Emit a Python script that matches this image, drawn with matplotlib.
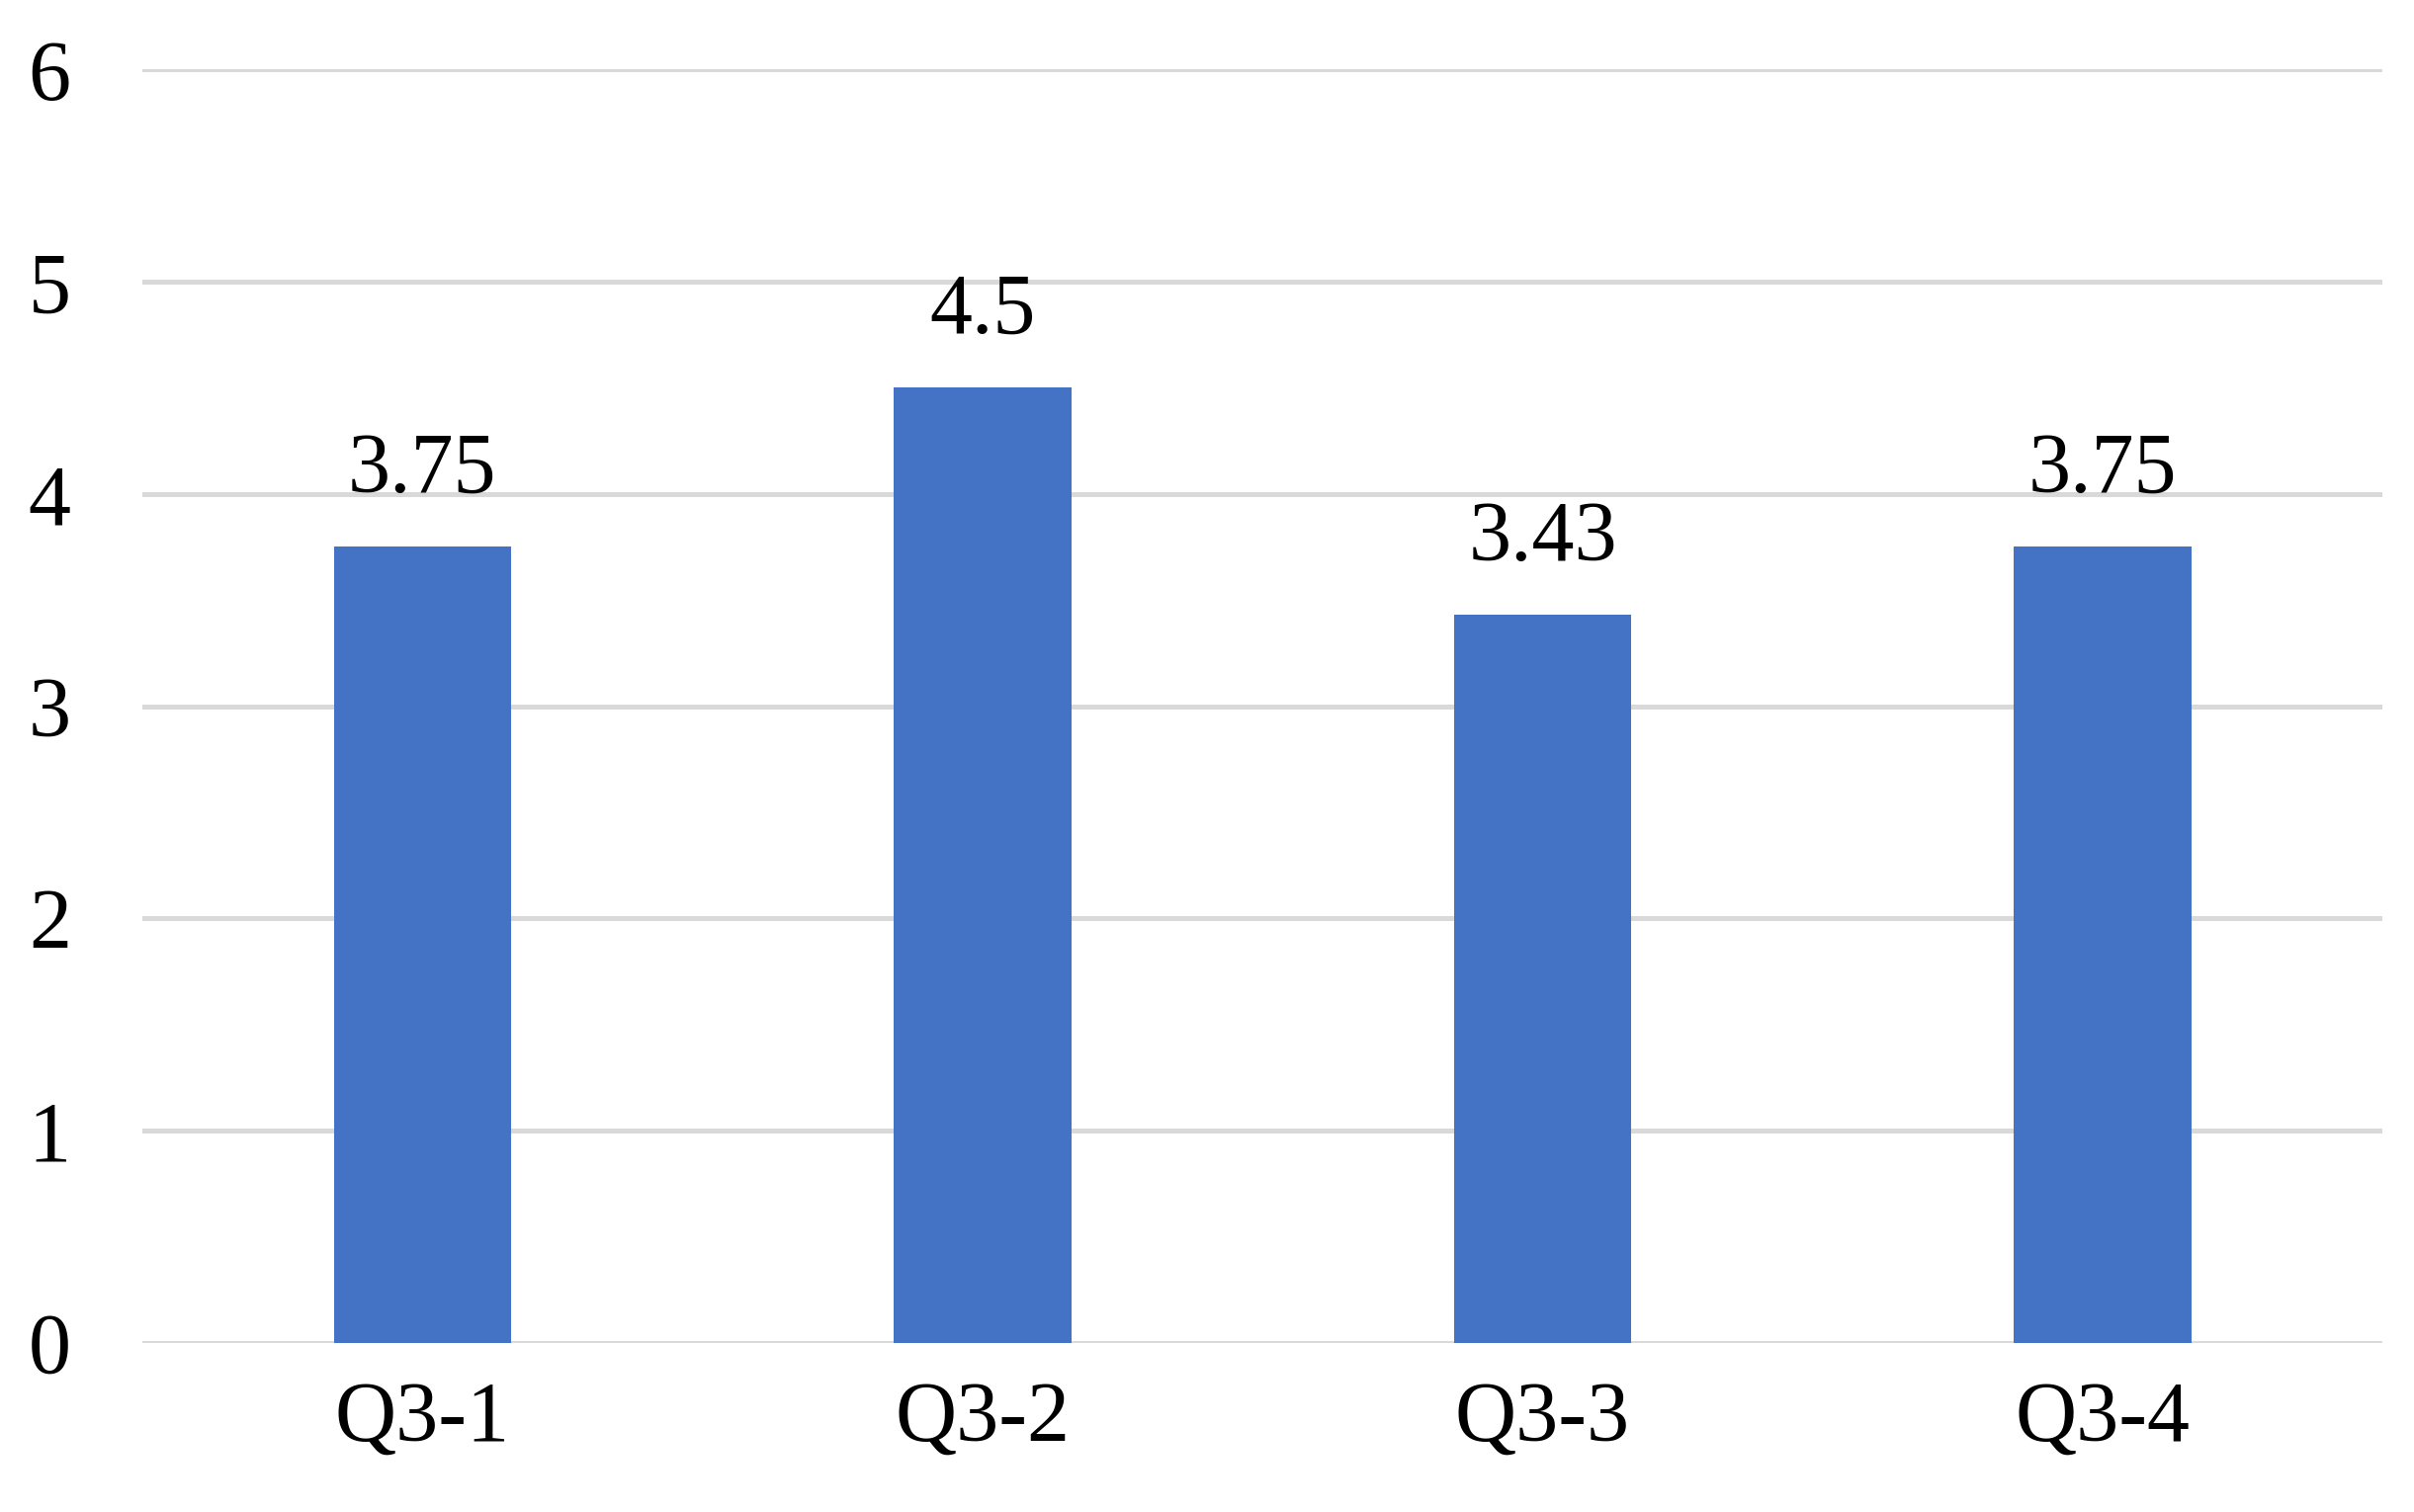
import matplotlib.pyplot as plt

# chart data
categories = ['Q3-1', 'Q3-2', 'Q3-3', 'Q3-4']
values = [3.75, 4.5, 3.43, 3.75]
value_labels = ['3.75', '4.5', '3.43', '3.75']

plt.rcParams['font.family'] = ['Liberation Serif', 'DejaVu Serif']

fig = plt.figure(figsize=(24.42, 15.30), dpi=100)
ax = fig.add_axes([0.059, 0.112, 0.928, 0.842])

x = range(len(categories))
bars = ax.bar(x, values, width=0.317, color='#4472C4', zorder=3)

for b, lab in zip(bars, value_labels):
    ax.text(b.get_x() + b.get_width() / 2, b.get_height() + 0.17, lab,
            ha='center', va='bottom', fontsize=62, color='black')

ax.set_xlim(-0.5, 3.5)
ax.set_ylim(0, 6)
ax.set_yticks(range(0, 7))
ax.set_xticks(list(x))
ax.set_xticklabels(categories)
ax.tick_params(axis='both', length=0, labelsize=62, colors='black')
ax.tick_params(axis='x', pad=28)
ax.tick_params(axis='y', pad=52)

ax.grid(axis='y', color='#D9D9D9', linewidth=3.6, zorder=0)
for s in ax.spines.values():
    s.set_visible(False)

fig.savefig('out.png', dpi=100)
